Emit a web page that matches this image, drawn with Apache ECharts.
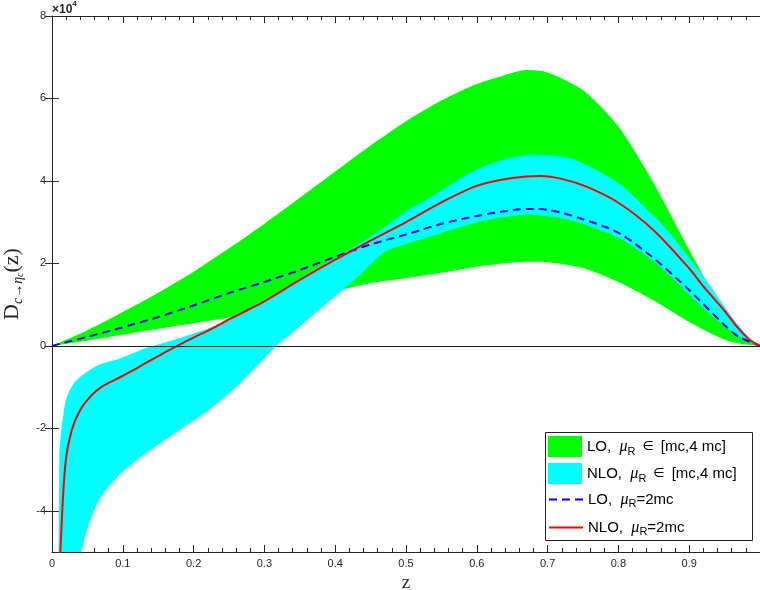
<!DOCTYPE html>
<html>
<head>
<meta charset="utf-8">
<script src="https://cdn.jsdelivr.net/npm/echarts@6/dist/echarts.min.js"></script>
<style>
  html, body { margin: 0; padding: 0; background: #fff; }
  #chart { width: 760px; height: 590px; }
</style>
</head>
<body>
<div id="chart"></div>
<script>
// Fragmentation function D_{c->eta_c}(z), values in units of 1e4

// LO band, mu_R in [mc, 4 mc]
const loZ   = [0, 0.05, 0.1, 0.141, 0.2, 0.26, 0.28, 0.3, 0.35, 0.379, 0.411, 0.449, 0.5, 0.55, 0.6, 0.65, 0.67, 0.7, 0.75, 0.8, 0.85, 0.9, 0.95, 0.98, 1];
const loMax = [0, 0.38, 0.82, 1.2, 1.8, 2.48, 2.72, 2.96, 3.59, 3.96, 4.37, 4.85, 5.45, 5.95, 6.35, 6.62, 6.69, 6.63, 6.2, 5.32, 3.94, 2.33, 0.79, 0.22, 0];
const loMin = [0, 0.13, 0.27, 0.39, 0.55, 0.71, 0.77, 0.84, 1.05, 1.2, 1.37, 1.52, 1.64, 1.77, 1.92, 2.02, 2.04, 2.03, 1.89, 1.55, 1.1, 0.58, 0.15, 0.03, 0];

// NLO band, mu_R in [mc, 4 mc]
const nloZ   = [0.0104, 0.019, 0.031, 0.047, 0.066, 0.094, 0.132, 0.16, 0.188, 0.22, 0.26, 0.28, 0.3, 0.317, 0.35, 0.4, 0.435, 0.47, 0.5, 0.534, 0.59, 0.63, 0.675, 0.732, 0.8, 0.85, 0.873, 0.92, 0.95, 0.967, 0.985, 1];
const nloMax = [-2.68, -1.35, -0.90, -0.66, -0.46, -0.32, -0.06, 0.08, 0.23, 0.42, 0.75, 0.93, 1.12, 1.28, 1.64, 2.13, 2.48, 2.88, 3.27, 3.6, 4.2, 4.48, 4.63, 4.55, 3.95, 3.15, 2.73, 1.68, 0.95, 0.55, 0.2, 0];
const nloMin = [-12, -9, -6.0, -4.6, -3.75, -3.15, -2.62, -2.28, -1.95, -1.58, -1.0, -0.65, -0.3, 0, 0.47, 1.2, 1.72, 2.28, 2.47, 2.65, 2.95, 3.1, 3.18, 3.05, 2.62, 2.05, 1.7, 0.92, 0.48, 0.27, 0.1, 0];

// Central curves, mu_R = 2mc
const lo2Z   = [0, 0.05, 0.1, 0.15, 0.2, 0.25, 0.3, 0.35, 0.4, 0.45, 0.5, 0.55, 0.6, 0.65, 0.675, 0.7, 0.75, 0.8, 0.85, 0.9, 0.95, 0.97, 1];
const lo2Val = [0, 0.22, 0.45, 0.7, 0.98, 1.28, 1.55, 1.84, 2.16, 2.46, 2.7, 2.96, 3.15, 3.29, 3.32, 3.3, 3.07, 2.74, 2.12, 1.35, 0.5, 0.22, 0];

const nlo2Z   = [0.009, 0.0118, 0.0188, 0.028, 0.04, 0.0565, 0.0706, 0.094, 0.122, 0.155, 0.177, 0.2, 0.226, 0.25, 0.28, 0.3, 0.35, 0.4, 0.45, 0.5, 0.55, 0.6, 0.65, 0.69, 0.72, 0.755, 0.8, 0.85, 0.9, 0.92, 0.95, 0.967, 0.985, 1];
const nlo2Val = [-6.5, -5.0, -2.88, -2.04, -1.55, -1.19, -0.99, -0.78, -0.52, -0.2, 0, 0.2, 0.42, 0.64, 0.9, 1.08, 1.6, 2.09, 2.55, 3.0, 3.48, 3.88, 4.07, 4.12, 4.05, 3.86, 3.47, 2.8, 1.88, 1.44, 0.85, 0.47, 0.15, 0];

// Axis ticks
const xTickLabels = ['0', '0.1', '0.2', '0.3', '0.4', '0.5', '0.6', '0.7', '0.8', '0.9'];
const yTicks = [-4, -2, 0, 2, 4, 6, 8];

const pairs = (xs, ys) => xs.map((x, i) => [x, ys[i]]);
const rows = (xs, lo, hi) => xs.map((x, i) => [x, lo[i], hi[i]]);

const AXIS = '#262626';
const SANS = '"Liberation Sans", Arial, Helvetica, sans-serif';
const SERIF = '"Liberation Serif", "DejaVu Serif", serif';

// Shaded band between the min and max curves, drawn as one polygon
function bandItem(color) {
  return function (params, api) {
    if (params.dataIndex !== 0) return null;
    const n = params.dataInsideLength;
    const top = [], bottom = [];
    for (let i = 0; i < n; i++) {
      const z = api.value(0, i);
      top.push(api.coord([z, api.value(2, i)]));
      bottom.push(api.coord([z, api.value(1, i)]));
    }
    return {
      type: 'polygon',
      shape: { points: top.concat(bottom.reverse()), smooth: 0.25 },
      style: { fill: color, stroke: null },
      silent: true
    };
  };
}

// Legend entries (rich text with mu_R)
const legendRich = {
  t: { fontFamily: SANS, fontSize: 15, color: '#000', lineHeight: 21 },
  e: { fontFamily: '"DejaVu Sans", sans-serif', fontSize: 13, color: '#000', lineHeight: 21, padding: [0, 7, 0, 7] },
  m: { fontFamily: SERIF, fontStyle: 'italic', fontSize: 16, color: '#000', lineHeight: 21 },
  r: { fontFamily: SANS, fontSize: 11, color: '#000', lineHeight: 13, verticalAlign: 'bottom' }
};
const legendText = {
  'LO band':  '{t|LO,  }{m|μ}{r|R}{e|∈}{t|[mc,4 mc]}',
  'NLO band': '{t|NLO,  }{m|μ}{r|R}{e|∈}{t|[mc,4 mc]}',
  'LO 2mc':   '{t|LO,  }{m|μ}{r|R}{t|=2mc}',
  'NLO 2mc':  '{t|NLO,  }{m|μ}{r|R}{t|=2mc}'
};
const legendRows = [
  { name: 'LO band', icon: 'rect', itemStyle: { color: '#00ff00' } },
  { name: 'NLO band', icon: 'rect', itemStyle: { color: '#00ffff' } },
  { name: 'LO 2mc', itemStyle: { opacity: 0 } },
  { name: 'NLO 2mc', itemStyle: { opacity: 0 } }
];
const legendTops = [436, 463, 491, 519];
const legends = legendRows.map((row, i) => ({
  left: 548, top: legendTops[i], padding: 0,
  itemWidth: 34, itemHeight: 21,
  selectedMode: false, z: 6,
  data: [row],
  formatter: name => legendText[name],
  textStyle: { rich: legendRich }
}));

const chart = echarts.init(document.getElementById('chart'), null, { renderer: 'canvas' });
chart.setOption({
  animation: false,
  backgroundColor: '#fff',
  title: {
    text: '{a|×10}{b|4}',
    left: 52, top: 0, padding: 0,
    textStyle: {
      rich: {
        a: { fontFamily: SANS, fontSize: 12, color: AXIS, lineHeight: 16, verticalAlign: 'bottom' },
        b: { fontFamily: SANS, fontSize: 8, color: AXIS, lineHeight: 10, verticalAlign: 'top' }
      }
    }
  },
  graphic: [{
    type: 'rect', z: 5, silent: true,
    shape: { x: 545.5, y: 432.5, width: 207, height: 108 },
    style: { fill: '#fff', stroke: AXIS, lineWidth: 1 }
  }],
  grid: { left: 52, right: 0, top: 16, bottom: 38, containLabel: false, outerBoundsMode: 'none' },
  legend: legends,
  xAxis: [{
    type: 'value', position: 'bottom',
    min: 0, max: 1, interval: 0.1,
    name: 'z', nameLocation: 'middle', nameGap: 15,
    nameTextStyle: { fontFamily: SERIF, fontSize: 19, color: AXIS },
    axisLine: { show: true, onZero: false, lineStyle: { color: AXIS, width: 1 } },
    axisTick: { show: true, inside: true, length: 7, lineStyle: { color: AXIS } },
    minorTick: { show: true, splitNumber: 5, length: 4, lineStyle: { color: AXIS } },
    axisLabel: {
      color: AXIS, fontFamily: SANS, fontSize: 11, margin: 6,
      showMaxLabel: false,
      formatter: v => xTickLabels[Math.round(v * 10)] || ''
    },
    splitLine: { show: false }
  }, {
    type: 'value', position: 'top',
    min: 0, max: 1, interval: 0.1,
    axisLine: { show: true, onZero: false, lineStyle: { color: AXIS, width: 1 } },
    axisTick: { show: true, inside: true, length: 7, lineStyle: { color: AXIS } },
    minorTick: { show: true, splitNumber: 5, length: 4, lineStyle: { color: AXIS } },
    axisLabel: { show: false },
    splitLine: { show: false }
  }],
  yAxis: [{
    type: 'value', position: 'left',
    min: -5, max: 8,
    name: '{d|D}{s|c→}{si|η}{ss|c}{d|(z)}',
    nameLocation: 'middle', nameRotate: 90, nameGap: 20,
    nameTextStyle: {
      rich: {
        d: { fontFamily: SERIF, fontSize: 22, color: AXIS, lineHeight: 26 },
        s: { fontFamily: SERIF, fontStyle: 'italic', fontSize: 14, color: AXIS, lineHeight: 18, verticalAlign: 'bottom' },
        si: { fontFamily: SERIF, fontStyle: 'italic', fontSize: 14, color: AXIS, lineHeight: 18, verticalAlign: 'bottom' },
        ss: { fontFamily: SERIF, fontStyle: 'italic', fontSize: 10, color: AXIS, lineHeight: 11, verticalAlign: 'bottom' }
      }
    },
    axisLine: { show: true, onZero: false, lineStyle: { color: AXIS, width: 1 } },
    axisTick: { show: true, inside: true, length: 7, customValues: yTicks, lineStyle: { color: AXIS } },
    axisLabel: { color: AXIS, fontFamily: SANS, fontSize: 11, margin: 6, customValues: yTicks },
    splitLine: { show: false }
  }, {
    type: 'value', position: 'right',
    min: -5, max: 8,
    axisLine: { show: false },
    axisTick: { show: true, inside: true, length: 7, customValues: yTicks, lineStyle: { color: AXIS } },
    axisLabel: { show: false },
    splitLine: { show: false }
  }],
  series: [
    {
      name: 'LO band', type: 'custom', clip: true, silent: true,
      data: rows(loZ, loMin, loMax),
      encode: { x: 0, y: [1, 2] },
      itemStyle: { color: '#00ff00' },
      renderItem: bandItem('#00ff00')
    },
    {
      name: 'NLO band', type: 'custom', clip: true, silent: true,
      data: rows(nloZ, nloMin, nloMax),
      encode: { x: 0, y: [1, 2] },
      itemStyle: { color: '#00ffff' },
      renderItem: bandItem('#00ffff')
    },
    {
      name: 'zero', type: 'line', data: [], silent: true,
      markLine: {
        silent: true, symbol: 'none', label: { show: false },
        lineStyle: { color: '#1a1a1a', type: 'solid', width: 1 },
        data: [{ yAxis: 0 }]
      }
    },
    {
      name: 'LO 2mc', type: 'line',
      data: pairs(lo2Z, lo2Val), symbol: 'none', smooth: 0.3,
      itemStyle: { color: '#0000ff' },
      lineStyle: { color: '#0000ff', width: 2, type: [8, 5] }
    },
    {
      name: 'NLO 2mc', type: 'line',
      data: pairs(nlo2Z, nlo2Val), symbol: 'none', smooth: 0.3,
      itemStyle: { color: '#ff0000' },
      lineStyle: { color: '#ff0000', width: 2 }
    }
  ]
});
</script>
</body>
</html>
